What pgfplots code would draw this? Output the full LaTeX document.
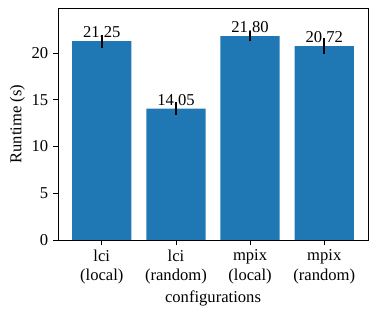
\documentclass[border=0pt]{standalone}
\usepackage{fontspec}
\setmainfont{Liberation Serif}
\usepackage{pgfplots}
\pgfplotsset{compat=1.18}
\definecolor{mplblue}{HTML}{1F77B4}
\begin{document}
\begin{tikzpicture}[x=1bp,y=1bp]
\path[use as bounding box] (-41.8,-54.7) rectangle (229.7,172.8);
\begin{axis}[
  at={(0,0)}, anchor=south west,
  scale only axis,
  width=223.2bp, height=167bp,
  xmin=-0.59, xmax=3.59,
  ymin=0, ymax=24.8,
  xtick={0,1,2,3},
  xticklabels={lci\\(local),lci\\(random),mpix\\(local),mpix\\(random)},
  xticklabel style={align=center, font=\fontsize{12}{14.2}\selectfont},
  yticklabel style={font=\fontsize{12}{13.5}\selectfont},
  ytick={0,5,10,15,20},
  tick align=outside,
  xtick pos=left, ytick pos=left,
  major tick length=3.5bp,
  tick style={black, line width=0.6bp},
  axis line style={line width=0.6bp},
  /pgf/number format/assume math mode=true,
  xlabel={configurations},
  ylabel={Runtime (s)},
  label style={font=\fontsize{12}{14}\selectfont},
  xlabel style={yshift=2bp},
  ylabel style={yshift=-2bp},
  ybar, bar width=0.8,
  every axis plot/.append style={bar shift=0pt},
  nodes near coords,
  nodes near coords style={font=\fontsize{12}{14}\selectfont, anchor=south, inner sep=0pt, yshift=2.2bp,
    /pgf/number format/.cd, fixed, fixed zerofill, precision=2, assume math mode=true},
]
\addplot[fill=mplblue, draw=none,
  error bars/.cd, y dir=both, y explicit, error mark=none,
  error bar style={black, line width=1.4bp}]
  coordinates {
  (0,21.25) +- (0,0.70)
  (1,14.05) +- (0,0.70)
  (2,21.80) +- (0,0.50)
  (3,20.72) +- (0,0.85)
  };
\end{axis}
\end{tikzpicture}
\end{document}
